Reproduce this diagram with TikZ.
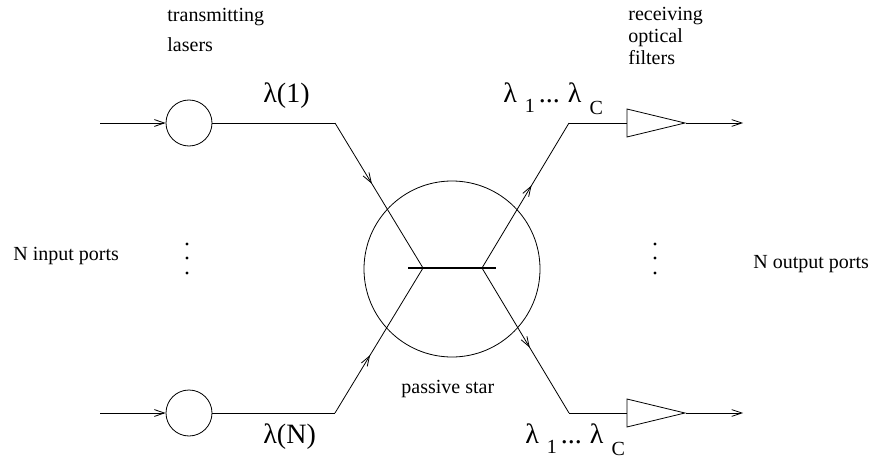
\documentclass[tikz,border=0pt]{standalone}
\usepackage{fontspec}
\setmainfont{Liberation Serif}
\usetikzlibrary{shapes.geometric, arrows.meta, positioning, decorations.markings}

\begin{document}
\begin{tikzpicture}[x=0.5pt, y=-0.5pt,
        laser/.style={circle, draw, minimum size=23pt, inner sep=0pt},
        filt/.style={isosceles triangle, isosceles triangle stretches, draw,
                     minimum width=14pt, minimum height=29pt, inner sep=0pt, anchor=apex},
        star/.style={circle, draw, minimum size=88pt, inner sep=0pt},
        lab/.style={font=\fontsize{10}{11}\selectfont, inner sep=0pt, align=left},
        lam/.style={font=\fontsize{14}{16}\selectfont, inner sep=0pt},
        arr/.style={-{Straight Barb[length=5pt,width=3.4pt]}},
        midarr/.style={postaction={decorate}, decoration={markings,
                     mark=at position #1 with {\arrow{Straight Barb[length=5pt,width=3.4pt]}}}},
        dot/.style={circle, fill, minimum size=1.6pt, inner sep=0pt}
    ]
        \useasboundingbox (0,0) rectangle (873,460);

        % lasers, star and filters
        \node[laser] (lasA) at (189,123) {};
        \node[laser] (lasB) at (189,413) {};
        \node[star] (star) at (452,269) {};
        \node[filt] (filtA) at (686,123) {};
        \node[filt] (filtB) at (686,413) {};

        \coordinate (inA) at (100,123);
        \coordinate (inB) at (100,413);
        \coordinate (bendA) at (335,123);
        \coordinate (bendB) at (335,413);
        \coordinate (jL) at (423,268);
        \coordinate (jR) at (482,268);
        \coordinate (barL) at (408,268);
        \coordinate (barR) at (496,268);
        \coordinate (bendC) at (569,123);
        \coordinate (bendD) at (569,413);
        \coordinate (outA) at (743,123);
        \coordinate (outB) at (743,413);

        \draw[arr] (inA) -- (lasA);
        \draw[arr] (inB) -- (lasB);
        \draw (lasA) -- (bendA);
        \draw (lasB) -- (bendB);
        \draw[midarr=0.42] (bendA) -- (jL);
        \draw[midarr=0.4] (bendB) -- (jL);
        \draw[line width=1pt] (barL) -- (barR);
        \draw[midarr=0.57] (jR) -- (bendC);
        \draw[midarr=0.55] (jR) -- (bendD);
        \draw (bendC) -- (filtA);
        \draw (bendD) -- (filtB);
        \draw[arr] (filtA.apex) -- (outA);
        \draw[arr] (filtB.apex) -- (outB);

        % dots
        \foreach \y [count=\i] in {244,258,273} {
            \node[dot] (dl\i) at (187,\y) {};
            \node[dot] (dr\i) at (655,\y) {};
        }

        % labels
        \node[lab, anchor=base west, font=\fontsize{10}{15}\selectfont] (txt) at (167,52) {transmitting\\lasers};
        \node[lab, anchor=base west] (rcv) at (628,65) {receiving\\optical\\filters};
        \node[lab, anchor=base west] (nin) at (13,260) {N input ports};
        \node[lab, anchor=base west] (nout) at (753,268) {N output ports};
        \node[lab, anchor=base west] (pst) at (401,393) {passive star};
        \node[lam, anchor=base west] (l1) at (263,103) {λ(1)};
        \node[lam, anchor=base west] (lN) at (263,443) {λ(N)};
        \node[lam, anchor=base west] (lcA) at (503,103)
            {λ\hspace{4pt}\raisebox{-5pt}{\fontsize{10}{12}\selectfont 1}\hspace{2pt}...\hspace{4pt}λ\hspace{4pt}\raisebox{-6pt}{\fontsize{10}{12}\selectfont C}};
        \node[lam, anchor=base west] (lcB) at (525,443)
            {λ\hspace{4pt}\raisebox{-5pt}{\fontsize{10}{12}\selectfont 1}\hspace{2pt}...\hspace{4pt}λ\hspace{4pt}\raisebox{-6pt}{\fontsize{10}{12}\selectfont C}};
    \end{tikzpicture}
\end{document}
